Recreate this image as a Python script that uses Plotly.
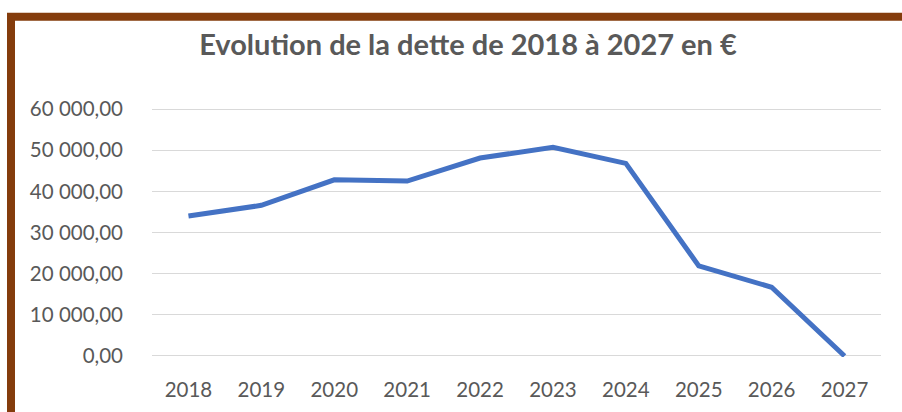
import plotly.graph_objects as go

years = ["2018", "2019", "2020", "2021", "2022", "2023", "2024", "2025", "2026", "2027"]
debt = [34000, 36600, 42800, 42500, 48100, 50700, 46800, 21900, 16700, 0]
y_ticks = [0, 10000, 20000, 30000, 40000, 50000, 60000]

W, H = 902, 412
# plot area in pixels: 0 at y=355.5, 60000 at y=109, x from 152 to 881
pad = 250
unit = 246.5 / 60000
L, R = 152, 21
T = 109 - pad * unit
B = H - (355.5 + pad * unit)
pw, ph = W - L - R, H - T - B

def px(x):
    return (x - L) / pw

def py(y):
    return (H - B - y) / ph

FONT = "Lato, 'Open Sans', sans-serif"

fig = go.Figure()
fig.add_trace(go.Scatter(
    x=years, y=debt, mode="lines",
    line=dict(color="#4472C4", width=5),
    hoverinfo="x+y",
))

fig.update_layout(
    width=W, height=H,
    margin=dict(l=L, r=R, t=T, b=B, pad=0),
    paper_bgcolor="white", plot_bgcolor="white",
    separators=", ",
    showlegend=False,
    font=dict(family=FONT, color="#595959", size=20.5),
    title=dict(
        text="<b>Evolution de la dette de 2018 à 2027 en €</b>",
        x=468 / W, xanchor="center", xref="container",
        y=1 - 45 / H, yanchor="middle", yref="container",
        font=dict(size=29, color="#595959", family=FONT),
    ),
    xaxis=dict(
        type="category", range=[-0.5, 9.5],
        showgrid=False, zeroline=False, showline=False,
        ticks="", ticklabelstandoff=18,
        tickfont=dict(size=20.5, color="#595959"),
    ),
    yaxis=dict(
        range=[-pad, 60000 + pad], tickvals=y_ticks, tickformat=",.2f",
        showgrid=True, gridcolor="#D9D9D9", gridwidth=1.3,
        zeroline=False, showline=False, ticks="", ticklabelstandoff=28,
        tickfont=dict(size=20.5, color="#595959"),
    ),
    shapes=[
        dict(type="path", xref="paper", yref="paper",
             path=f"M {px(11)},{py(440)} L {px(11)},{py(17)} L {px(920)},{py(17)}",
             line=dict(color="#843C0C", width=8), layer="above"),
    ],
)

fig.write_html("out.html", config={"displayModeBar": False},
               post_script="document.body.style.margin='0';")
